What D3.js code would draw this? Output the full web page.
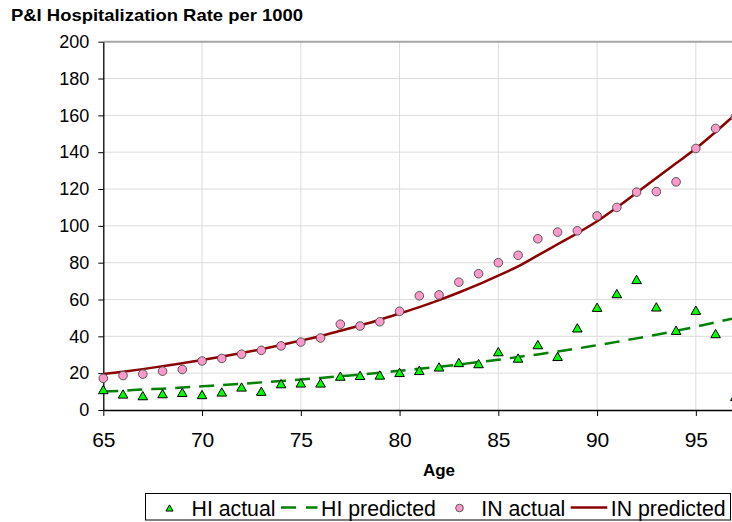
<!DOCTYPE html>
<html>
<head>
<meta charset="utf-8">
<script src="https://cdn.jsdelivr.net/npm/d3@7"></script>
<style>
  body { margin: 0; background: #fff; }
  svg { display: block; font-family: "Liberation Sans", Arial, sans-serif; }
</style>
</head>
<body>
<div id="chart"></div>
<script>
// ages on the x axis
var ages = [65, 66, 67, 68, 69, 70, 71, 72, 73, 74, 75, 76, 77, 78, 79, 80, 81,
  82, 83, 84, 85, 86, 87, 88, 89, 90, 91, 92, 93, 94, 95, 96, 97];
var predAges = ages.concat([98]);

var hiActual = [10.9, 8.5, 7.6, 8.7, 9.4, 8.2, 9.6, 12.3, 10, 14.1, 14.5, 14.5, 18.2, 18.6,
  18.8, 20.2, 21.3, 23.2, 25.6, 25, 31.5, 28, 35.3, 28.9, 44.4, 55.6, 63, 70.7,
  55.8, 43.1, 54, 41.3, 7.2];
var hiPredicted = [10, 10.5, 11.1, 11.6, 12.2, 12.9, 13.5, 14.2, 15, 15.7, 16.5, 17.4,
  18.3, 19.2, 20.2, 21.3, 22.4, 23.5, 24.7, 26, 27.3, 28.8, 30.2, 31.8, 33.4,
  35.2, 37, 38.9, 40.9, 43, 45.2, 47.6, 50, 52.6];
var inActual = [17.2, 18.7, 19.5, 21.1, 22, 26.6, 28, 30.3, 32.4, 34.8, 36.9, 39.1, 46.6,
  45.6, 47.9, 53.6, 62, 62.5, 69.4, 74, 80, 84, 93, 96.6, 97.3, 105.4, 110,
  118.3, 118.6, 123.9, 142, 152.9, 159];
var inPredicted = [19.5, 20.8, 22.2, 23.8, 25.4, 27.1, 29, 30.9, 33, 35.3, 37.7, 40.2, 43,
  45.9, 49, 52.4, 55.9, 59.7, 63.8, 68.2, 73, 78, 84, 90, 96, 102.5, 110, 118,
  126, 134, 142, 151, 160.5, 170];

var yTicks = [0, 20, 40, 60, 80, 100, 120, 140, 160, 180, 200];
var xTicks = [65, 70, 75, 80, 85, 90, 95];

var legendItems = ["HI actual", "HI predicted", "IN actual", "IN predicted"];

var width = 732, height = 522;
var greenLine = "#008000", redLine = "#8b0000", pink = "#ff99cc", lime = "#00ff00";

var svg = d3.select("#chart").append("svg")
  .attr("width", width)
  .attr("height", height);

svg.append("rect").attr("width", width).attr("height", height).attr("fill", "#fff");

var x = d3.scaleLinear().domain([65, 100]).range([103.3, 794.6]);
var y = d3.scaleLinear().domain([0, 200]).range([410, 41.7]);

// gridlines
svg.append("g").selectAll("line")
  .data(yTicks.filter(function(d) { return d > 0 && d < 200; }))
  .enter().append("line")
  .attr("x1", x(65)).attr("x2", width)
  .attr("y1", function(d) { return y(d); }).attr("y2", function(d) { return y(d); })
  .attr("stroke", "#dcdcdc").attr("stroke-width", 1);

svg.append("g").selectAll("line")
  .data(xTicks.filter(function(d) { return d > 65; }))
  .enter().append("line")
  .attr("x1", function(d) { return x(d); }).attr("x2", function(d) { return x(d); })
  .attr("y1", y(200)).attr("y2", y(0))
  .attr("stroke", "#dcdcdc").attr("stroke-width", 1);

// plot area top border
svg.append("line")
  .attr("x1", x(65)).attr("x2", width)
  .attr("y1", y(200)).attr("y2", y(200))
  .attr("stroke", "#a6a6a6").attr("stroke-width", 2);

// axes
var yAxis = svg.append("g")
  .attr("transform", "translate(" + x(65) + ",0)")
  .call(d3.axisLeft(y).tickValues(yTicks).tickSize(5).tickSizeOuter(0).tickPadding(9));
yAxis.selectAll("text").attr("font-size", 18).attr("fill", "#000")
  .attr("font-family", "Liberation Sans, Arial, sans-serif");

var xAxis = svg.append("g")
  .attr("transform", "translate(0," + y(0) + ")")
  .call(d3.axisBottom(x).tickValues(xTicks).tickSize(6).tickSizeOuter(0).tickPadding(16.5));
xAxis.selectAll("text").attr("font-size", 21).attr("fill", "#000")
  .attr("font-family", "Liberation Sans, Arial, sans-serif");

[yAxis, xAxis].forEach(function(a) {
  a.selectAll("line").attr("stroke", "#000");
  a.select(".domain").attr("stroke", "#000").attr("stroke-width", 1.3);
});

// predicted curves
var line = d3.line()
  .x(function(d) { return x(d[0]); })
  .y(function(d) { return y(d[1]); })
  .curve(d3.curveMonotoneX);

svg.append("path")
  .datum(d3.zip(predAges, hiPredicted))
  .attr("d", line)
  .attr("fill", "none")
  .attr("stroke", greenLine)
  .attr("stroke-width", 2.5)
  .attr("stroke-dasharray", "15,9");

svg.append("path")
  .datum(d3.zip(predAges, inPredicted))
  .attr("d", line)
  .attr("fill", "none")
  .attr("stroke", redLine)
  .attr("stroke-width", 2.5);

// actual points
svg.append("g").selectAll("circle")
  .data(d3.zip(ages, inActual))
  .enter().append("circle")
  .attr("cx", function(d) { return x(d[0]); })
  .attr("cy", function(d) { return y(d[1]); })
  .attr("r", 4.3)
  .attr("fill", pink)
  .attr("stroke", "#555")
  .attr("stroke-width", 1);

var tri = d3.symbol().type(d3.symbolTriangle).size(40);
svg.append("g").selectAll("path")
  .data(d3.zip(ages, hiActual))
  .enter().append("path")
  .attr("d", tri)
  .attr("transform", function(d) { return "translate(" + x(d[0]) + "," + (y(d[1]) + 1) + ")"; })
  .attr("fill", lime)
  .attr("stroke", "#000")
  .attr("stroke-width", 1);

// titles
svg.append("text")
  .attr("x", 11).attr("y", 21)
  .attr("font-size", 17).attr("font-weight", "bold")
  .attr("textLength", 292).attr("lengthAdjust", "spacingAndGlyphs")
  .text("P&I Hospitalization Rate per 1000");

svg.append("text")
  .attr("x", 439).attr("y", 476)
  .attr("text-anchor", "middle")
  .attr("font-size", 17).attr("font-weight", "bold")
  .text("Age");

// legend
var lg = svg.append("g");
lg.append("rect")
  .attr("x", 145.5).attr("y", 493.5).attr("width", 585).attr("height", 26.5)
  .attr("fill", "#fff").attr("stroke", "#000").attr("stroke-width", 1);

lg.append("path")
  .attr("d", d3.symbol().type(d3.symbolTriangle).size(22))
  .attr("transform", "translate(169.5,509)")
  .attr("fill", lime).attr("stroke", "#000").attr("stroke-width", 1);
lg.append("line")
  .attr("x1", 281).attr("x2", 317.5).attr("y1", 507.5).attr("y2", 507.5)
  .attr("stroke", greenLine).attr("stroke-width", 2.5).attr("stroke-dasharray", "15,10");
lg.append("circle")
  .attr("cx", 459.5).attr("cy", 508).attr("r", 3.8)
  .attr("fill", pink).attr("stroke", "#555").attr("stroke-width", 1);
lg.append("line")
  .attr("x1", 570.7).attr("x2", 607.3).attr("y1", 507.5).attr("y2", 507.5)
  .attr("stroke", redLine).attr("stroke-width", 2.5);

var legendX = [191.5, 321, 481.3, 610.8];
lg.selectAll("text")
  .data(legendItems)
  .enter().append("text")
  .attr("x", function(d, i) { return legendX[i]; })
  .attr("y", 515.5)
  .attr("font-size", 21.3)
  .text(function(d) { return d; });
</script>
</body>
</html>
